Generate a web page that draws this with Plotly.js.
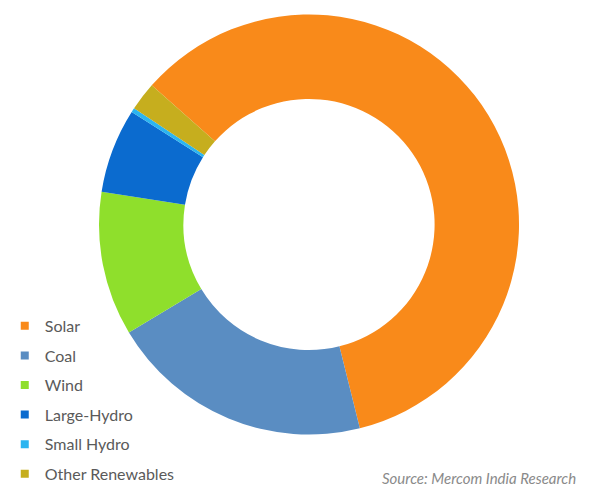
<!DOCTYPE html>
<html>
<head>
<meta charset="utf-8">
<script src="https://cdn.plot.ly/plotly-3.0.1.min.js"></script>
<style>html,body{margin:0;padding:0;background:#fff;}#chart{width:595px;height:488px;}</style>
</head>
<body>
<div id="chart"></div>
<script>
const labels = ["Solar", "Coal", "Wind", "Large-Hydro", "Small Hydro", "Other Renewables"];
const shares = [59.6, 20.3, 11.1, 6.5, 0.33, 2.2];
const colors = ["#F98A1A", "#5A8DC2", "#8FDF2C", "#0B6BCF", "#2BB5F0", "#C6AE1E"];
const sourceText = "Source: Mercom India Research";

const traces = [{
  type: "pie",
  labels: labels,
  values: shares,
  sort: false,
  direction: "clockwise",
  rotation: -48.5,
  hole: 0.598,
  textinfo: "none",
  hoverinfo: "label+percent",
  showlegend: false,
  marker: {colors: colors, line: {width: 0}},
  domain: {x: [0.1664, 0.8723], y: [0.1096, 0.9703]}
}];

labels.forEach((lab, i) => {
  traces.push({
    type: "scatter",
    mode: "markers",
    x: [null], y: [null],
    name: lab,
    legendgroup: "g" + i,
    marker: {symbol: "square", size: 8, color: colors[i]},
    showlegend: true,
    hoverinfo: "skip"
  });
});

const layout = {
  width: 595, height: 488,
  margin: {l: 0, r: 0, t: 0, b: 0, autoexpand: false},
  paper_bgcolor: "#fff", plot_bgcolor: "rgba(0,0,0,0)",
  xaxis: {visible: false}, yaxis: {visible: false},
  showlegend: true,
  legend: {
    x: 0.008, y: 0.367, xanchor: "left", yanchor: "top",
    traceorder: "grouped", tracegroupgap: 5.8,
    font: {family: "Lato, 'Open Sans', sans-serif", size: 16, color: "#5a5a5a"},
    bgcolor: "rgba(0,0,0,0)"
  },
  annotations: [{
    text: "<i>" + sourceText + "</i>",
    xref: "paper", yref: "paper", x: 0.972, y: 0.021,
    xanchor: "right", yanchor: "middle", showarrow: false,
    font: {family: "Lato, 'Open Sans', sans-serif", size: 15, color: "#8a8a8a"}
  }]
};

Plotly.newPlot("chart", traces, layout, {displayModeBar: false, staticPlot: true});
</script>
</body>
</html>
